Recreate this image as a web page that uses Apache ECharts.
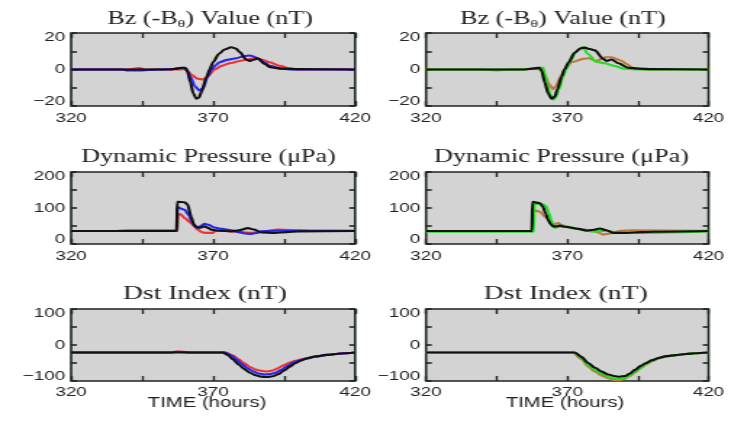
<!DOCTYPE html>
<html>
<head>
<meta charset="utf-8">
<script src="https://cdn.jsdelivr.net/npm/echarts@6/dist/echarts.min.js"></script>
<style>
  html, body { margin: 0; padding: 0; background: #fff; overflow: hidden; }
  /* the source figure is stretched sideways, so the chart is drawn narrow and widened */
  #chart { width: 504px; height: 422px; transform: scaleX(1.4504); transform-origin: 0 0; }
</style>
</head>
<body>
<div id="chart"></div>
<script>
// time axis (hours)
const timeTicks = [320, 370, 420];

// Bz (-B_theta) in nT, [time, value]
const bzRed = [[320,0],[340,0],[344,0.8],[346,0],[358,0],[360,0.2],[361,-1],[362.5,-3],[364.5,-5],[366.3,-5.5],[368,-4],[370.5,0],[373,2],[376,3.5],[379,4.5],[382,5.5],[384.7,6.2],[387,5.5],[390,4],[393.5,2],[397,0.6],[400,0],[420,0]];
const bzBlue = [[320,0],[338,0],[340,-0.5],[345,-0.5],[350,0],[356,0.3],[359,1],[360.5,0.5],[362,-4],[363.5,-9],[365.2,-11.5],[366.5,-10],[368,-4],[369.5,0],[371,2.5],[372.3,4],[375,5.3],[378.2,6.2],[381,7.3],[383,7.7],[384.5,7],[386.4,5.4],[388,3.8],[390,2],[393.5,0.5],[397,0],[420,0]];
const bzBlack = [[320,0],[355,0],[357,0.5],[359,1],[360.2,1],[361,-1],[362,-7],[363,-13],[364.1,-16],[365,-15.5],[366,-12],[367.5,-5],[368.8,0],[370,4],[372,8.5],[374,11],[376.4,12.2],[378,11.5],[379.4,9.5],[381.7,5.4],[382.8,4.7],[384,5.2],[385.7,6.1],[388.2,3],[390,1.3],[394,0.5],[400,0.2],[420,0]];
const bzBrown = [[320,0],[340,0],[345,-0.5],[350,0],[358,0.3],[361,0],[362,-3],[363.5,-8],[364.9,-10.8],[366,-9],[367.9,-3.4],[369,0],[371.5,4],[375.6,5.8],[377.5,6.2],[380.4,4.7],[383.3,6.7],[385.7,6.7],[388.9,4.9],[391,3],[393,1],[397,0],[420,0]];
const bzGreen = [[320,0],[355,0],[358,0.8],[361.5,1],[362,-3],[363,-9],[364,-14],[365,-16.5],[366,-15],[367,-11],[368.5,-4],[369.5,0],[371,4.5],[373,9.5],[375.5,12.3],[377.2,8.6],[380.2,4.3],[383.2,3.4],[386.6,2],[390,0.5],[394,0],[420,0]];
const bzBlack2 = [[320,0],[355,0],[358,0.5],[360.2,1],[361,-1],[362,-7],[363.2,-13],[364.4,-16],[365.5,-15],[366.5,-11],[368,-4],[369,0],[370.5,4],[372.5,9],[374.5,11.5],[376.2,12],[378,11.2],[379.8,10.5],[382.7,5.8],[384,4.7],[385.7,5.5],[388.1,3.4],[391.5,1],[395,0.5],[400,0.2],[420,0]];

// dynamic pressure in uPa
const pdRed = [[320,36],[357.4,36],[357.6,81],[358.5,83],[360,72],[362.3,58],[363.5,48],[364.6,40],[366,33],[367,31],[369.9,31],[371,38],[373,37],[376.4,35],[380,33],[383.5,31],[386,33],[388,35],[393,40],[400,38],[405,37],[420,36]];
const pdBlue = [[320,36],[335,36],[340,37.5],[357.2,37.5],[357.4,102],[360,95],[361.5,80],[362.3,65],[363.5,50],[364.6,45],[366,52],[367,56],[368.5,53],[370.5,46],[373,42],[376.4,38],[379,33],[381.1,29],[383.5,28],[385.5,31],[387,35],[390,37],[420,37]];
const pdBlack = [[320,36],[357.2,36],[357.4,117],[360,116],[361,110],[362.3,75],[363.2,55],[364,48],[365.1,45],[366.2,47],[367,49],[368.2,45],[369.4,40],[372,37],[376.4,35],[379,38],[382.3,44],[384.5,40],[387,32],[391.7,31],[396,33],[400,35],[420,36]];
const pdBrown = [[320,36],[357.5,36],[357.7,95],[360.2,90],[362.5,74],[364.4,56],[365.5,55],[366.8,58],[368,52],[370,47],[372.1,43],[376,40],[379.2,38],[381,32],[382.7,26],[385.1,29],[388.6,37],[393,38],[420,37]];
const pdGreen = [[320,34],[358.1,34],[358.3,111],[361,112],[362.5,105],[363.5,85],[364.4,64],[365.6,45],[367,48],[368.6,51],[370.5,48],[373.3,43],[376,38],[379.2,34],[381.5,36],[383.9,37],[386,34],[388.6,31],[400.5,31],[410,33],[420,35]];
const pdBlack2 = [[320,36],[357.5,36],[357.7,117],[360.2,114],[361.4,103],[362.3,85],[363.2,68],[364,56],[365,49],[366.3,49],[367.4,51],[369,48],[371,46],[374,42],[376.9,37],[379,39],[381.6,43],[383.5,39],[386.3,31],[391,31],[396,33],[400.5,34],[420,36]];

// Dst index in nT
const dstRed = [[320,-21],[355,-21],[357,-18],[360,-19],[362,-21],[374.5,-21],[377,-29],[379,-40],[381,-51],[383,-61],[385,-68],[387,-72],[389,-73.5],[391,-71],[393,-64],[395,-56],[397,-49],[399,-44],[402,-38],[406,-32],[410,-27.5],[415,-23.5],[420,-21]];
const dstBlue = [[320,-21],[355,-21],[357,-19],[360,-20],[362,-21],[374,-21],[376,-27],[378,-39],[380,-52],[382,-64],[384,-73],[386,-79],[388,-82],[390,-81],[392,-77],[394,-69],[396,-59],[398,-50],[400,-44],[403,-37.5],[406,-32],[410,-27.5],[415,-23.5],[420,-21]];
const dstBlack = [[320,-21],[373.5,-21],[375,-27],[377,-40],[379,-54],[381,-67],[383,-77],[385,-84],[387,-88],[389,-89],[391,-87],[393,-81],[395,-71],[397,-60],[399,-50],[401,-43],[403,-37.5],[406,-32],[410,-27.5],[415,-23.5],[420,-21]];
const dstBrown = [[320,-21],[372,-21],[375,-39],[377.4,-60],[380,-75],[382.2,-85],[384.5,-92],[386.5,-97],[388,-98],[390,-95],[392,-87],[394,-76],[396,-64],[398,-53],[400,-45],[402.3,-37.5],[405,-32],[408.3,-28],[412,-25],[415.4,-23],[420,-21]];
const dstGreen = [[320,-21],[372.5,-21],[375,-36],[377.4,-56],[380,-70],[382.2,-80],[384.5,-88],[386.5,-93],[388.1,-94],[390,-92],[392,-85],[394,-74],[396,-63],[398,-52],[400,-44],[402.3,-37],[405,-31.5],[408.3,-28],[412,-25],[415.4,-23],[420,-21]];
const dstBlack2 = [[320,-21],[372.7,-21],[375,-33],[377.4,-50],[380,-64],[382.2,-74],[384.5,-82],[386.9,-87],[388.5,-88],[390.5,-86],[392,-80],[394,-69],[396,-58],[397.6,-51],[400,-42],[402.3,-36],[405,-31],[408.3,-28],[412,-25],[415.4,-23],[420,-21]];

// y tick labels
const bzTicks = [-20, 0, 20];
const pdTicks = [0, 100, 200];
const dstTicks = [-100, 0, 100];

const RED = '#f03232', BLUE = '#2626f0', BLACK = '#111111', GREEN = '#22dd22', BROWN = '#b97a3e';
const INK = '#222222';
const SANS = 'Liberation Sans';
const SERIF = 'Liberation Serif';

const colLeft = [49, 293.7];
const colWidth = [195.8, 194.8];
const rowTop = [33, 172, 309];
const rowHeight = [73, 72, 72];

const panels = [
  { row: 0, col: 0, min: -20, max: 20, step: 10, ticks: bzTicks, lines: [[bzRed, RED], [bzBlue, BLUE], [bzBlack, BLACK]] },
  { row: 0, col: 1, min: -20, max: 20, step: 10, ticks: bzTicks, lines: [[bzBrown, BROWN], [bzGreen, GREEN], [bzBlack2, BLACK]] },
  { row: 1, col: 0, min: 0, max: 200, step: 50, ticks: pdTicks, lines: [[pdRed, RED], [pdBlue, BLUE], [pdBlack, BLACK]] },
  { row: 1, col: 1, min: 0, max: 200, step: 50, ticks: pdTicks, lines: [[pdBrown, BROWN], [pdGreen, GREEN], [pdBlack2, BLACK]] },
  { row: 2, col: 0, min: -100, max: 100, step: 50, ticks: dstTicks, lines: [[dstRed, RED], [dstBlue, BLUE], [dstBlack, BLACK]] },
  { row: 2, col: 1, min: -100, max: 100, step: 50, ticks: dstTicks, lines: [[dstBrown, BROWN], [dstGreen, GREEN], [dstBlack2, BLACK]] }
];

const xTick = { show: true, inside: true, length: 5, lineStyle: { color: '#1c261f', width: 1.4 } };
const yTick = { show: true, inside: true, length: 4, lineStyle: { color: '#1c261f', width: 1.6 } };
const noLine = { show: false, onZero: false };
const labelFont = { color: INK, fontFamily: SANS, fontSize: 13 };
// end labels sit a little inside the frame, as in the source plot
const labelRich = {
  top: { fontFamily: SANS, fontSize: 13, color: INK, padding: [9, 0, 0, 0] },
  bot: { fontFamily: SANS, fontSize: 13, color: INK, padding: [0, 0, 9, 0] }
};

const grid = [], xAxis = [], yAxis = [], series = [];
panels.forEach(function (p, i) {
  grid.push({
    left: colLeft[p.col], width: colWidth[p.col], top: rowTop[p.row], height: rowHeight[p.row],
    show: true, backgroundColor: '#d3d3d3', borderColor: '#1c261f', borderWidth: 1.6
  });
  const xBase = { gridIndex: i, type: 'value', min: 320, max: 420, interval: 25,
    axisLine: noLine, splitLine: { show: false }, axisTick: xTick };
  xAxis.push(Object.assign({}, xBase, { position: 'bottom',
    axisLabel: Object.assign({ margin: p.row === 2 ? 5 : 6 }, labelFont, {
      formatter: function (v) { return timeTicks.indexOf(v) >= 0 ? String(v) : ''; } }) }));
  xAxis.push(Object.assign({}, xBase, { position: 'top', axisLabel: { show: false } }));
  const yBase = { gridIndex: i, type: 'value', min: p.min, max: p.max, interval: p.step,
    axisLine: noLine, splitLine: { show: false }, axisTick: yTick };
  yAxis.push(Object.assign({}, yBase, { position: 'left',
    axisLabel: Object.assign({ margin: 4, rich: labelRich }, labelFont, { formatter: function (v) {
      if (p.ticks.indexOf(v) < 0) return '';
      const s = String(v).replace('-', '\u2212');
      if (v === p.max) return '{top|' + s + '}';
      if (v === p.min) return '{bot|' + s + '}';
      return s; } }) }));
  yAxis.push(Object.assign({}, yBase, { position: 'right', axisLabel: { show: false } }));
  p.lines.forEach(function (l) {
    series.push({
      type: 'line', xAxisIndex: 2 * i, yAxisIndex: 2 * i, data: l[0],
      showSymbol: false, symbol: 'none', smooth: 0.25, smoothMonotone: 'x',
      lineStyle: { color: l[1], width: 2.1 }
    });
  });
});

function titleText(x, y, text, size) {
  return { type: 'text', x: x, y: y, style: { text: text, align: 'center', verticalAlign: 'middle',
    fill: INK, font: (size || 18) + 'px "Liberation Serif"' } };
}
function bzTitle(x, y) {
  return { type: 'text', x: x, y: y, style: {
    text: '{m|Bz (-B}{s|\u03b8}{m|) Value (nT)}', align: 'center', verticalAlign: 'middle', fill: INK,
    rich: {
      m: { fontFamily: SERIF, fontSize: 18, lineHeight: 22, fill: INK },
      s: { fontFamily: SERIF, fontSize: 11, lineHeight: 11, verticalAlign: 'bottom', fill: INK }
    } } };
}
function axisName(x, y) {
  return { type: 'text', x: x, y: y, style: { text: 'TIME (hours)', align: 'center', verticalAlign: 'middle',
    fill: INK, font: '14px "Liberation Sans"' } };
}

const chart = echarts.init(document.getElementById('chart'));
chart.setOption({
  animation: false,
  backgroundColor: '#ffffff',
  grid: grid,
  xAxis: xAxis,
  yAxis: yAxis,
  series: series,
  graphic: [
    bzTitle(144.8, 19), bzTitle(388.2, 19),
    titleText(143.8, 157.5, 'Dynamic Pressure (\u03bcPa)'), titleText(387.1, 157.5, 'Dynamic Pressure (\u03bcPa)'),
    titleText(141.3, 294, 'Dst Index (nT)', 19), titleText(390, 294, 'Dst Index (nT)', 19),
    axisName(142.7, 403), axisName(389.5, 403)
  ]
});
</script>
</body>
</html>
